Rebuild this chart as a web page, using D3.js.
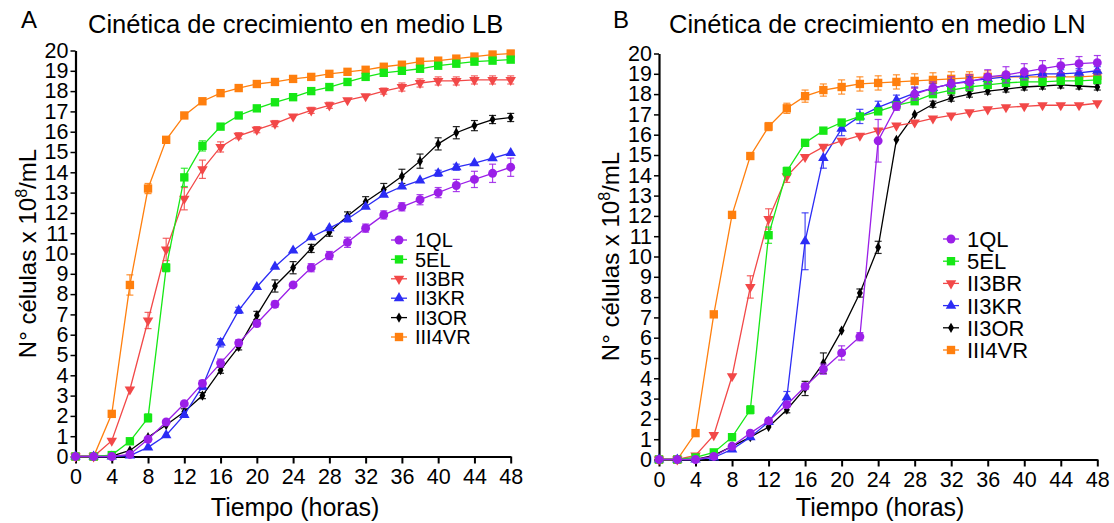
<!DOCTYPE html>
<html>
<head>
<meta charset="utf-8">
<script src="https://cdn.jsdelivr.net/npm/d3@7"></script>
<style>
  html, body { margin: 0; padding: 0; background: #fff; }
  svg { display: block; font-family: "Liberation Sans", Arial, sans-serif; }
</style>
</head>
<body>
<svg id="chart" width="1114" height="523"></svg>
<script>
// Sampling times (hours)
const hours = [0,2,4,6,8,10,12,14,16,18,20,22,24,26,28,30,32,34,36,38,40,42,44,46,48];
const xTicks = [0,4,8,12,16,20,24,28,32,36,40,44,48];
const yTicks = d3.range(0, 21);
const strains = ["1QL", "5EL", "II3BR", "II3KR", "II3OR", "III4VR"];

// Medium LB: mean cell counts (x10^8/mL) and error half-widths
const lb_1QL   = [0,0,0,0.1,0.85,1.7,2.6,3.6,4.6,5.6,6.55,7.5,8.45,9.3,9.9,10.55,11.25,11.9,12.3,12.65,13.0,13.35,13.65,13.95,14.25];
const lb_5EL   = [0,0,0.07,0.75,1.9,9.3,13.75,15.3,16.25,16.8,17.15,17.45,17.7,18.0,18.2,18.45,18.7,18.9,19.0,19.1,19.25,19.35,19.45,19.5,19.55];
const lb_II3BR = [0,0,0.78,3.3,6.7,10.2,12.7,14.15,15.25,15.8,16.1,16.4,16.75,17.05,17.3,17.55,17.75,18.0,18.2,18.4,18.5,18.5,18.55,18.55,18.55];
const lb_II3KR = [0,0,0,0.05,0.45,1.05,2.05,3.45,5.6,7.2,8.35,9.35,10.15,10.8,11.25,11.7,12.3,12.9,13.3,13.6,13.95,14.25,14.45,14.7,14.95];
const lb_II3OR = [0,0,0.02,0.3,0.95,1.55,2.2,3.0,4.25,5.4,6.95,8.4,9.3,10.25,11.05,11.85,12.55,13.15,13.8,14.55,15.4,15.95,16.3,16.6,16.7];
const lb_III4VR= [0,0,2.1,8.45,13.2,15.6,16.8,17.5,17.9,18.15,18.35,18.45,18.6,18.7,18.85,18.95,19.05,19.2,19.3,19.45,19.5,19.6,19.7,19.8,19.85];

const lbErr_1QL   = [0,0,0,0.05,0.1,0.1,0.1,0.15,0.2,0.15,0.15,0.15,0.1,0.2,0.2,0.25,0.2,0.2,0.2,0.25,0.25,0.3,0.4,0.45,0.45];
const lbErr_5EL   = [0,0,0.05,0.15,0.2,0.2,0.45,0.25,0.1,0.1,0.1,0.1,0.1,0.1,0.1,0.1,0.1,0.1,0.1,0.1,0.1,0.1,0.1,0.1,0.1];
const lbErr_II3BR = [0,0,0.1,0.1,0.4,0.55,0.55,0.45,0.25,0.15,0.15,0.15,0.1,0.15,0.15,0.1,0.1,0.15,0.2,0.2,0.2,0.2,0.2,0.2,0.2];
const lbErr_II3KR = [0,0,0,0.05,0.1,0.1,0.1,0.15,0.2,0.15,0.1,0.1,0.1,0.1,0.1,0.15,0.1,0.1,0.1,0.1,0.15,0.15,0.1,0.1,0.1];
const lbErr_II3OR = [0,0,0,0.05,0.1,0.1,0.15,0.15,0.15,0.15,0.2,0.3,0.3,0.2,0.2,0.2,0.25,0.3,0.35,0.35,0.3,0.3,0.25,0.2,0.2];
const lbErr_III4VR= [0,0,0.1,0.5,0.25,0.1,0.1,0.1,0.1,0.1,0.1,0.15,0.15,0.15,0.15,0.15,0.15,0.15,0.15,0.15,0.15,0.15,0.15,0.15,0.15];

// Medium LN: mean cell counts (x10^8/mL) and error half-widths
const ln_1QL   = [0,0,0,0.15,0.65,1.3,1.9,2.7,3.6,4.45,5.25,6.05,15.7,17.4,18.0,18.3,18.5,18.6,18.85,18.95,19.1,19.25,19.4,19.5,19.55];
const ln_5EL   = [0,0,0.1,0.35,1.1,2.45,11.05,14.2,15.6,16.2,16.6,16.9,17.15,17.45,17.65,18.0,18.2,18.35,18.45,18.55,18.6,18.6,18.65,18.65,18.7];
const ln_II3BR = [0,0,0.2,1.2,4.1,8.5,11.85,13.95,14.9,15.4,15.7,15.95,16.2,16.45,16.6,16.8,16.95,17.1,17.25,17.35,17.4,17.45,17.45,17.45,17.55];
const ln_II3KR = [0,0,0,0.1,0.5,1.1,1.85,3.05,10.75,14.85,16.3,16.9,17.35,17.7,18.05,18.3,18.5,18.65,18.75,18.85,18.9,19.0,19.0,19.05,19.15];
const ln_II3OR = [0,0,0,0.2,0.65,1.1,1.6,2.45,3.5,4.75,6.35,8.2,10.45,15.75,17.0,17.5,17.8,18.0,18.15,18.25,18.35,18.4,18.45,18.4,18.35];
const ln_III4VR= [0,0,1.3,7.15,12.05,14.95,16.4,17.3,17.9,18.2,18.35,18.5,18.55,18.6,18.65,18.7,18.75,18.8,18.85,18.85,18.85,18.85,18.85,18.85,18.9];

const lnErr_1QL   = [0,0,0,0.05,0.05,0.05,0.1,0.1,0.15,0.25,0.35,0.2,1.05,0.2,0.3,0.3,0.35,0.35,0.35,0.4,0.4,0.4,0.35,0.35,0.35];
const lnErr_5EL   = [0,0,0.05,0.05,0.1,0.2,0.4,0.2,0.1,0.1,0.1,0.1,0.1,0.1,0.1,0.1,0.1,0.1,0.1,0.1,0.1,0.1,0.1,0.1,0.1];
const lnErr_II3BR = [0,0,0.05,0.1,0.1,0.55,0.5,0.3,0.1,0.1,0.1,0.1,0.1,0.1,0.1,0.1,0.1,0.1,0.1,0.1,0.1,0.1,0.1,0.1,0.1];
const lnErr_II3KR = [0,0,0,0.05,0.1,0.1,0.1,0.3,1.4,0.5,0.35,0.35,0.3,0.25,0.3,0.2,0.2,0.2,0.2,0.2,0.2,0.2,0.2,0.2,0.2];
const lnErr_II3OR = [0,0,0,0.05,0.05,0.1,0.1,0.15,0.35,0.5,0.1,0.2,0.3,0.1,0.1,0.15,0.15,0.15,0.15,0.15,0.15,0.15,0.15,0.15,0.15];
const lnErr_III4VR= [0,0,0.15,0.1,0.1,0.1,0.2,0.25,0.3,0.3,0.35,0.35,0.35,0.35,0.35,0.35,0.35,0.3,0.3,0.25,0.25,0.2,0.2,0.2,0.2];

const colors = {
  "1QL": "#9b1fe8",
  "5EL": "#16e816",
  "II3BR": "#f24848",
  "II3KR": "#2c2cf5",
  "II3OR": "#000000",
  "III4VR": "#ff7f0e"
};
const shapes = {
  "1QL":   { type: d3.symbolCircle,   size: 62, rot: 0 },
  "5EL":   { type: d3.symbolSquare,   size: 70, rot: 0 },
  "II3BR": { type: d3.symbolTriangle, size: 48, rot: 180 },
  "II3KR": { type: d3.symbolTriangle, size: 48, rot: 0 },
  "II3OR": { type: d3.symbolDiamond,  size: 30, rot: 0 },
  "III4VR":{ type: d3.symbolSquare,   size: 70, rot: 0 }
};

const panels = [
  {
    letter: "A", title: "Cinética de crecimiento en medio LB",
    letterX: 21, titleX: 88, labelX: 36,
    xRange: [75.5, 510.7], yRange: [456.5, 50.5],
    legend: { x: 399, y: 240, dy: 19.4, font: 20 },
    values: { "1QL": lb_1QL, "5EL": lb_5EL, "II3BR": lb_II3BR, "II3KR": lb_II3KR, "II3OR": lb_II3OR, "III4VR": lb_III4VR },
    errors: { "1QL": lbErr_1QL, "5EL": lbErr_5EL, "II3BR": lbErr_II3BR, "II3KR": lbErr_II3KR, "II3OR": lbErr_II3OR, "III4VR": lbErr_III4VR }
  },
  {
    letter: "B", title: "Cinética de crecimiento en medio LN",
    letterX: 613, titleX: 669, labelX: 619,
    xRange: [659, 1097.3], yRange: [459.5, 53.5],
    legend: { x: 951, y: 239, dy: 22.2, font: 22 },
    values: { "1QL": ln_1QL, "5EL": ln_5EL, "II3BR": ln_II3BR, "II3KR": ln_II3KR, "II3OR": ln_II3OR, "III4VR": ln_III4VR },
    errors: { "1QL": lnErr_1QL, "5EL": lnErr_5EL, "II3BR": lnErr_II3BR, "II3KR": lnErr_II3KR, "II3OR": lnErr_II3OR, "III4VR": lnErr_III4VR }
  }
];

const svg = d3.select("#chart");

function symbolPath(name) {
  const s = shapes[name];
  return d3.symbol().type(s.type).size(s.size)();
}

panels.forEach(p => {
  const x = d3.scaleLinear().domain([0, 48]).range(p.xRange);
  const y = d3.scaleLinear().domain([0, 20]).range(p.yRange);
  const g = svg.append("g");

  // Panel letter and title
  g.append("text").attr("x", p.letterX).attr("y", 28)
    .attr("font-size", 24).attr("fill", "#000").text(p.letter);
  g.append("text").attr("x", p.titleX).attr("y", 33)
    .attr("font-size", 25.5).attr("fill", "#000").text(p.title);

  // Axes
  const xAxis = g.append("g")
    .attr("transform", `translate(0,${p.yRange[0]})`)
    .call(d3.axisBottom(x).tickValues(xTicks).tickSize(7).tickPadding(5).tickSizeOuter(0));
  xAxis.select(".domain").attr("stroke", "#000").attr("stroke-width", 2.2);
  xAxis.selectAll(".tick line").attr("stroke", "#000").attr("stroke-width", 2);
  xAxis.selectAll(".tick text").attr("font-size", 21.5).attr("fill", "#000")
    .attr("font-family", "Liberation Sans, Arial, sans-serif");

  const yAxis = g.append("g")
    .attr("transform", `translate(${p.xRange[0]},0)`)
    .call(d3.axisLeft(y).tickValues(yTicks).tickSize(5).tickPadding(2).tickSizeOuter(0));
  yAxis.select(".domain").attr("stroke", "#000").attr("stroke-width", 2.2);
  yAxis.selectAll(".tick line").attr("stroke", "#000").attr("stroke-width", 1.5);
  yAxis.selectAll(".tick text").attr("font-size", 21.5).attr("fill", "#000")
    .attr("font-family", "Liberation Sans, Arial, sans-serif");

  // Axis titles
  const midX = (p.xRange[0] + p.xRange[1]) / 2;
  g.append("text").attr("x", midX + 2).attr("y", 516)
    .attr("text-anchor", "middle").attr("font-size", 25).attr("fill", "#000")
    .text("Tiempo (horas)");

  const midY = (p.yRange[0] + p.yRange[1]) / 2;
  const yl = g.append("text")
    .attr("transform", `translate(${p.labelX},${midY}) rotate(-90)`)
    .attr("text-anchor", "middle").attr("font-size", 24).attr("fill", "#000");
  yl.append("tspan").text("N° células x 10");
  yl.append("tspan").attr("dy", -9).attr("font-size", 16).text("8");
  yl.append("tspan").attr("dy", 9).text("/mL");

  // Series, drawn so that 1QL ends on top
  const order = strains.slice().reverse();
  const line = d3.line().x((d, i) => x(hours[i])).y(d => y(d));

  order.forEach(name => {
    const vals = p.values[name];
    const errs = p.errors[name];
    const c = colors[name];
    const sg = g.append("g");

    sg.append("path").datum(vals)
      .attr("d", line).attr("fill", "none")
      .attr("stroke", c).attr("stroke-width", 1.3);

    const pts = hours.map((h, i) => ({ h, v: vals[i], e: errs[i] }));
    const eb = sg.selectAll(".eb").data(pts.filter(d => d.e > 0.12)).join("g")
      .attr("stroke", c).attr("stroke-width", 1.2).attr("stroke-opacity", 0.85);
    eb.append("line")
      .attr("x1", d => x(d.h)).attr("x2", d => x(d.h))
      .attr("y1", d => y(d.v - d.e)).attr("y2", d => y(d.v + d.e));
    eb.append("line")
      .attr("x1", d => x(d.h) - 3.5).attr("x2", d => x(d.h) + 3.5)
      .attr("y1", d => y(d.v + d.e)).attr("y2", d => y(d.v + d.e));
    eb.append("line")
      .attr("x1", d => x(d.h) - 3.5).attr("x2", d => x(d.h) + 3.5)
      .attr("y1", d => y(d.v - d.e)).attr("y2", d => y(d.v - d.e));

    sg.selectAll(".pt").data(pts).join("path")
      .attr("d", symbolPath(name))
      .attr("transform", d => `translate(${x(d.h)},${y(d.v)}) rotate(${shapes[name].rot})`)
      .attr("fill", c);
  });

  // Legend
  const lg = g.append("g");
  strains.forEach((name, i) => {
    const ly = p.legend.y + i * p.legend.dy;
    const c = colors[name];
    lg.append("line")
      .attr("x1", p.legend.x - 8).attr("x2", p.legend.x + 8)
      .attr("y1", ly).attr("y2", ly)
      .attr("stroke", c).attr("stroke-width", 1.3);
    lg.append("path").attr("d", symbolPath(name))
      .attr("transform", `translate(${p.legend.x},${ly}) rotate(${shapes[name].rot})`)
      .attr("fill", c);
    lg.append("text")
      .attr("x", p.legend.x + 16).attr("y", ly + p.legend.font * 0.36)
      .attr("font-size", p.legend.font).attr("fill", "#000").text(name);
  });
});
</script>
</body>
</html>
